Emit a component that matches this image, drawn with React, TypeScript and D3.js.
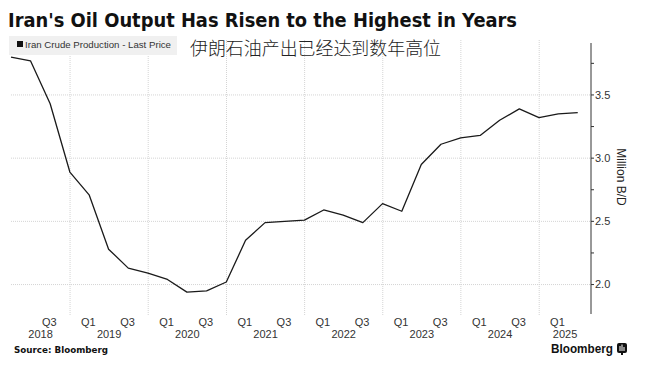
import * as d3 from 'd3';

// quarterly readings, million barrels per day
const dates = [
  '2018-03-31', '2018-06-30', '2018-09-30', '2018-12-31',
  '2019-03-31', '2019-06-30', '2019-09-30', '2019-12-31',
  '2020-03-31', '2020-06-30', '2020-09-30', '2020-12-31',
  '2021-03-31', '2021-06-30', '2021-09-30', '2021-12-31',
  '2022-03-31', '2022-06-30', '2022-09-30', '2022-12-31',
  '2023-03-31', '2023-06-30', '2023-09-30', '2023-12-31',
  '2024-03-31', '2024-06-30', '2024-09-30', '2024-12-31',
  '2025-03-31', '2025-06-30',
];
const production = [
  3.80, 3.77, 3.43, 2.89,
  2.71, 2.28, 2.13, 2.09,
  2.04, 1.94, 1.95, 2.02,
  2.35, 2.49, 2.50, 2.51,
  2.59, 2.55, 2.49, 2.64,
  2.58, 2.95, 3.11, 3.16,
  3.18, 3.30, 3.39, 3.32,
  3.35, 3.36,
];
const yTicks = [2.0, 2.5, 3.0, 3.5];
const yMinorTicks = [2.25, 2.75, 3.25, 3.75];
const years = [2018, 2019, 2020, 2021, 2022, 2023, 2024, 2025];
const quarterLabels = ['Q1', 'Q3'];

const title = "Iran's Oil Output Has Risen to the Highest in Years";
const subtitle = '伊朗石油产出已经达到数年高位';
const legendLabel = 'Iran Crude Production - Last Price';
const axisTitle = 'Million B/D';

const W = 645;
const H = 369;
const plot = { left: 11, right: 591, top: 40, bottom: 314 };
const font = '"Liberation Sans", Arial, sans-serif';

export default function App() {
  const parse = d3.utcParse('%Y-%m-%d');
  const points = dates.map((d, i) => ({ date: parse(d) as Date, value: production[i] }));

  const x = d3.scaleUtc()
    .domain([parse('2018-03-31') as Date, parse('2025-08-31') as Date])
    .range([plot.left, plot.right]);
  const y = d3.scaleLinear()
    .domain([1.767, 3.911])
    .range([plot.bottom, 43]);

  const line = d3.line<{ date: Date; value: number }>()
    .x(d => x(d.date))
    .y(d => y(d.value));

  const yearStarts = years.slice(1).map(yr => new Date(Date.UTC(yr, 0, 1)));

  // quarter labels sit near the end of their quarter
  const qLabels: { text: string; x: number }[] = [];
  years.forEach(yr => {
    quarterLabels.forEach((q, qi) => {
      const start = new Date(Date.UTC(yr, qi * 6, 1));
      const end = new Date(Date.UTC(yr, qi * 6 + 3, 1));
      if (x(start) < plot.left - 1 || x(end) > plot.right) return;
      qLabels.push({ text: q, x: x(end) - 1 });
    });
  });

  const yearLabels = years.map(yr => {
    const a = Math.max(plot.left, x(new Date(Date.UTC(yr, 0, 1))));
    const b = Math.min(plot.right, x(new Date(Date.UTC(yr + 1, 0, 1))));
    return { text: String(yr), x: (a + b) / 2 };
  });

  return (
    <svg width={W} height={H} style={{ position: 'absolute', left: 0, top: 0, background: '#fff' }}>
      <rect width={W} height={H} fill="#fff" />

      <text x={8} y={27} fontFamily='"DejaVu Sans", sans-serif' fontWeight="bold" fontSize={19}
        textLength={509} lengthAdjust="spacingAndGlyphs" fill="#111">{title}</text>

      {/* grid */}
      {yTicks.map(t => (
        <line key={t} x1={plot.left} x2={plot.right} y1={y(t)} y2={y(t)}
          stroke="#d4d4d4" strokeDasharray="1,1" />
      ))}
      {yearStarts.map(d => (
        <line key={+d} x1={x(d)} x2={x(d)} y1={plot.top} y2={plot.bottom + 1}
          stroke="#d4d4d4" strokeDasharray="1,1" />
      ))}

      {/* legend */}
      <rect x={9} y={36} width={168} height={19} fill="#f0f0f0" />
      <rect x={17} y={41} width={6} height={6} fill="#111" />
      <text x={25} y={48} fontFamily={font} fontSize={9} fill="#333"
        textLength={146} lengthAdjust="spacingAndGlyphs">{legendLabel}</text>

      <text x={190} y={55} fontFamily='"Noto Sans CJK SC", sans-serif' fontWeight={300} fontSize={18}
        fill="#222" textLength={251} lengthAdjust="spacingAndGlyphs">{subtitle}</text>

      {/* series */}
      <path d={line(points) ?? ''} fill="none" stroke="#1a1a1a" strokeWidth={1.3} strokeLinejoin="round" />

      {/* right axis */}
      <line x1={plot.right} x2={plot.right} y1={43} y2={plot.bottom} stroke="#333" strokeWidth={1} />
      {yTicks.concat(yMinorTicks).map(t => (
        <line key={'tk' + t} x1={plot.right} x2={plot.right + 3} y1={y(t)} y2={y(t)} stroke="#333" />
      ))}
      {yTicks.map(t => (
        <text key={'lb' + t} x={plot.right + 4} y={y(t)} dy="0.35em" fontFamily={font}
          fontSize={11} fill="#333">{d3.format('.1f')(t)}</text>
      ))}
      <text transform={`translate(617,177) rotate(90)`} textAnchor="middle" fontFamily={font}
        fontSize={12} fill="#222">{axisTitle}</text>

      {/* x labels */}
      {qLabels.map((q, i) => (
        <text key={'q' + i} x={q.x} y={326} textAnchor="middle" fontFamily={font}
          fontSize={11} fill="#333">{q.text}</text>
      ))}
      {yearLabels.map(l => (
        <text key={l.text} x={l.x} y={338} textAnchor="middle" fontFamily={font}
          fontSize={11} fill="#333">{l.text}</text>
      ))}

      {/* footer */}
      <text x={14} y={353} fontFamily='"DejaVu Sans", sans-serif' fontWeight="bold" fontSize={9.5}
        fill="#111" textLength={94} lengthAdjust="spacingAndGlyphs">Source: Bloomberg</text>
      <text x={551} y={353} fontFamily={font} fontWeight="bold" fontSize={13}
        fill="#111" textLength={62} lengthAdjust="spacingAndGlyphs">Bloomberg</text>
      <g transform="translate(617,343)">
        <rect width={10} height={10} rx={2} fill="#111" />
        <rect x={2.5} y={3} width={1} height={5} fill="#fff" />
        <rect x={4.5} y={1.5} width={1} height={6.5} fill="#fff" />
        <rect x={6.5} y={4} width={1} height={4} fill="#fff" />
        <rect x={4} y={10} width={2} height={2} fill="#111" />
      </g>
    </svg>
  );
}
